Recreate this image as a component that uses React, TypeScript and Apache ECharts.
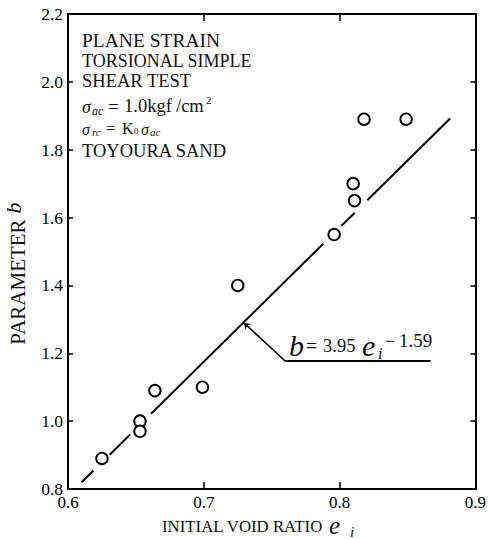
import React, { useEffect, useRef } from "react";
import * as echarts from "echarts";

// Axis ranges / ticks
const xMin = 0.6;
const xMax = 0.9;
const xStep = 0.1;
const yMin = 0.8;
const yMax = 2.2;
const yStep = 0.2;

// Measured points: initial void ratio e_i vs parameter b
const voidRatio = [0.625, 0.653, 0.653, 0.664, 0.699, 0.725, 0.796, 0.81, 0.811, 0.818, 0.849];
const paramB = [0.89, 1.0, 0.97, 1.09, 1.1, 1.4, 1.55, 1.7, 1.65, 1.89, 1.89];

// Drawn fit line b = 3.95 e_i - 1.59, as visible segments (broken around circles)
const fitStartX = [0.61, 0.6307, 0.6612, 0.8014, 0.8204];
const fitStartY = [0.82, 0.901, 1.022, 1.576, 1.651];
const fitEndX = [0.6186, 0.6459, 0.788, 0.8112, 0.8814];
const fitEndY = [0.854, 0.961, 1.523, 1.614, 1.892];

// Leader line of the equation label
const leaderX = [0.7295, 0.76, 0.867];
const leaderY = [1.29, 1.177, 1.177];

const SERIF = '"Liberation Serif", "Times New Roman", serif';

function txt(text: string, x: number, y: number, size: number, italic = false, extra: any = {}, rotation = 0) {
  return {
    type: "text",
    x,
    y,
    rotation,
    silent: true,
    style: {
      text,
      font: `${italic ? "italic " : ""}${size}px ${SERIF}`,
      fill: "#111",
      textAlign: "left",
      textVerticalAlign: "middle",
      align: "left",
      verticalAlign: "middle",
      ...extra,
    },
  };
}

export default function App() {
  const ref = useRef<HTMLDivElement>(null);

  useEffect(() => {
    if (!ref.current) return;
    const chart = echarts.init(ref.current, null, { renderer: "svg" });

    const axisLine = { show: true, onZero: false, lineStyle: { color: "#000", width: 2 } };
    const tickStyle = { color: "#000", width: 1.5 };
    const centered = { textAlign: "center", align: "center" };

    const option: any = {
      animation: false,
      backgroundColor: "#fff",
      grid: { left: 68, right: 11, top: 14, bottom: 50 },
      xAxis: [
        {
          type: "value",
          min: xMin,
          max: xMax,
          interval: xStep,
          position: "bottom",
          axisLine,
          axisTick: { show: true, inside: true, length: 7, lineStyle: tickStyle },
          axisLabel: {
            color: "#000",
            fontSize: 17,
            fontFamily: SERIF,
            margin: 5,
            formatter: (v: number) => v.toFixed(1),
          },
          splitLine: { show: false },
        },
        {
          type: "value",
          min: xMin,
          max: xMax,
          interval: xStep,
          position: "top",
          axisLine,
          axisTick: { show: true, inside: true, length: 7, lineStyle: tickStyle },
          axisLabel: { show: false },
          splitLine: { show: false },
        },
      ],
      yAxis: [
        {
          type: "value",
          min: yMin,
          max: yMax,
          interval: yStep,
          position: "left",
          axisLine,
          axisTick: { show: true, inside: true, length: 5, lineStyle: tickStyle },
          axisLabel: {
            color: "#000",
            fontSize: 17.5,
            fontFamily: SERIF,
            margin: 5,
            formatter: (v: number) => v.toFixed(1),
          },
          splitLine: { show: false },
        },
        {
          type: "value",
          min: yMin,
          max: yMax,
          interval: yStep,
          position: "right",
          axisLine,
          axisTick: { show: true, inside: true, length: 5, lineStyle: tickStyle },
          axisLabel: { show: false },
          splitLine: { show: false },
        },
      ],
      series: [
        {
          type: "lines",
          coordinateSystem: "cartesian2d",
          silent: true,
          lineStyle: { color: "#000", width: 2, opacity: 1 },
          data: fitStartX.map((x, i) => ({
            coords: [
              [x, fitStartY[i]],
              [fitEndX[i], fitEndY[i]],
            ],
          })),
          z: 2,
        },
        {
          type: "lines",
          coordinateSystem: "cartesian2d",
          silent: true,
          symbol: ["arrow", "none"],
          symbolSize: [6, 9],
          lineStyle: { color: "#000", width: 1.5, opacity: 1 },
          data: [
            {
              coords: [
                [leaderX[0], leaderY[0]],
                [leaderX[1], leaderY[1]],
              ],
            },
          ],
          z: 2,
        },
        {
          type: "lines",
          coordinateSystem: "cartesian2d",
          silent: true,
          lineStyle: { color: "#000", width: 1.8, opacity: 1 },
          data: [
            {
              coords: [
                [leaderX[1], leaderY[1]],
                [leaderX[2], leaderY[2]],
              ],
            },
          ],
          z: 2,
        },
        {
          type: "scatter",
          symbol: "circle",
          symbolSize: 11.5,
          itemStyle: { color: "#fff", borderColor: "#000", borderWidth: 1.9, opacity: 1 },
          data: voidRatio.map((x, i) => [x, paramB[i]]),
          z: 3,
        },
      ],
      graphic: [
        // Test condition block
        txt("PLANE STRAIN", 82, 40, 19.5),
        txt("TORSIONAL SIMPLE", 82, 60.5, 18),
        txt("SHEAR TEST", 82, 80.5, 18.5),
        txt("σ", 82, 107, 18, true),
        txt("ac", 92, 111, 12, true),
        txt("=", 108, 106, 19),
        txt("1.0kgf", 124, 106, 18.5),
        txt("/cm", 176, 106, 18.5),
        txt("2", 206, 100, 11),
        txt("σ", 82, 129, 16, true),
        txt("rc", 92, 132, 11, true),
        txt("=", 106, 128, 17),
        txt("K", 122, 128, 16),
        txt("0", 134, 131, 9),
        txt("σ", 141, 129, 16, true),
        txt("ac", 150, 132, 11, true),
        txt("TOYOURA SAND", 82, 150.5, 18.5),
        // Equation label
        txt("b", 289, 345, 30, true),
        txt("=", 306, 346, 20),
        txt("3.95", 323, 346, 18.5),
        txt("e", 362, 345, 30, true),
        txt("i", 378, 353.5, 16, true),
        txt("−", 385, 340.5, 18),
        txt("1.59", 399, 340.5, 19),
        // Y axis name (rotated)
        txt("PARAMETER", 18, 282, 21, false, centered, Math.PI / 2),
        txt("b", 13, 208, 22, true, centered, Math.PI / 2),
        // X axis name
        txt("INITIAL VOID RATIO", 162, 526, 16.8),
        txt("e", 329, 525.5, 25, true),
        txt("i", 350, 531.5, 15, true),
      ],
    };

    chart.setOption(option);
    return () => chart.dispose();
  }, []);

  return (
    <div
      ref={ref}
      style={{ position: "absolute", left: 0, top: 0, width: 489, height: 539, background: "#fff" }}
    />
  );
}
